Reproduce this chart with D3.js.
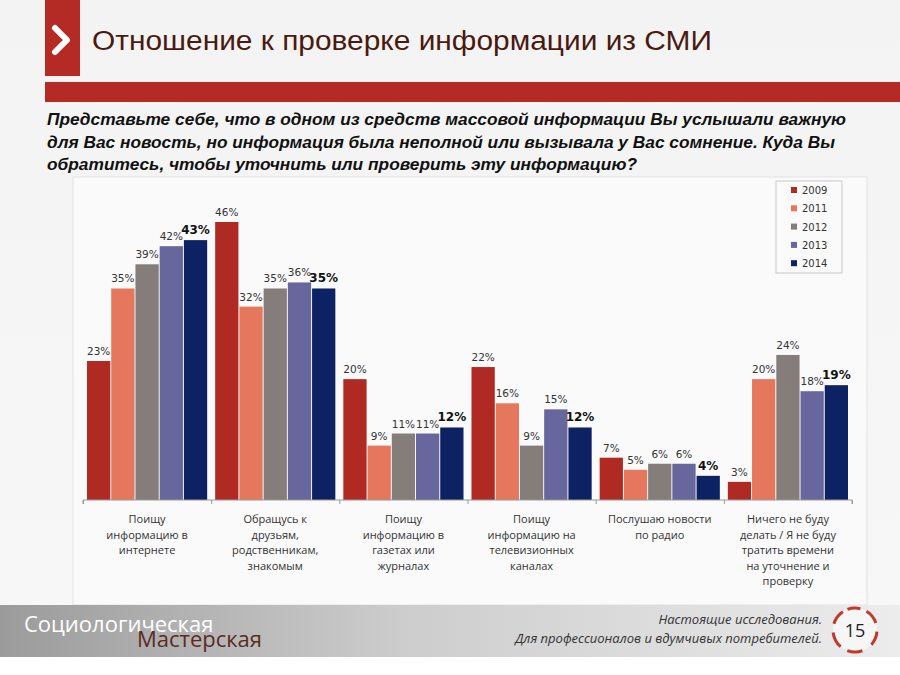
<!DOCTYPE html>
<html><head><meta charset="utf-8">
<script src="https://cdn.jsdelivr.net/npm/d3@7"></script>
<style>body{margin:0;background:#fff}svg{display:block}</style>
</head><body>
<script>
const categories = [
  ["Поищу", "информацию в", "интернете"],
  ["Обращусь к", "друзьям,", "родственникам,", "знакомым"],
  ["Поищу", "информацию в", "газетах или", "журналах"],
  ["Поищу", "информацию на", "телевизионных", "каналах"],
  ["Послушаю новости", "по радио"],
  ["Ничего не буду", "делать / Я не буду", "тратить времени", "на уточнение и", "проверку"]
];
const years = ["2009", "2011", "2012", "2013", "2014"];
const v2009 = [23, 46, 20, 22, 7, 3];
const v2011 = [35, 32, 9, 16, 5, 20];
const v2012 = [39, 35, 11, 9, 6, 24];
const v2013 = [42, 36, 11, 15, 6, 18];
const v2014 = [43, 35, 12, 12, 4, 19];
const series = [v2009, v2011, v2012, v2013, v2014];
const colors = ["#b02a24", "#e5775c", "#857d7a", "#68679d", "#0d2263"];
const title = "Отношение к проверке информации из СМИ";
const question = [
  "Представьте себе, что в одном из средств массовой информации Вы услышали важную",
  "для Вас новость, но информация была неполной или вызывала у Вас сомнение. Куда Вы",
  "обратитесь, чтобы уточнить или проверить эту информацию?"
];
const questionWidths = [799, 788, 590];

const W = 900, H = 675;
const svg = d3.select("body").append("svg").attr("width", W).attr("height", H);
const defs = svg.append("defs");

// background
const bg = defs.append("linearGradient").attr("id", "bg").attr("x1", 0).attr("y1", 0).attr("x2", 0).attr("y2", 1);
bg.append("stop").attr("offset", 0).attr("stop-color", "#f3f3f3");
bg.append("stop").attr("offset", 1).attr("stop-color", "#f7f7f7");
svg.append("rect").attr("width", W).attr("height", 605).attr("fill", "url(#bg)");

// header
svg.append("rect").attr("x", 45).attr("y", 0).attr("width", 35).attr("height", 76).attr("fill", "#b32b24");
svg.append("path").attr("d", "M55,28 L67,40 L55,52").attr("fill", "none")
  .attr("stroke", "#fff").attr("stroke-width", 6).attr("stroke-linecap", "round").attr("stroke-linejoin", "round");
svg.append("text").attr("x", 92).attr("y", 50).text(title)
  .attr("font-family", "Liberation Sans, Arial, sans-serif").attr("font-size", 27).attr("fill", "#4a1a10")
  .attr("textLength", 620).attr("lengthAdjust", "spacingAndGlyphs");
svg.append("rect").attr("x", 45).attr("y", 82).attr("width", W - 45).attr("height", 20).attr("fill", "#b32b24");

// question
svg.append("g").selectAll("text").data(question).join("text")
  .attr("x", 47).attr("y", (d, i) => 125 + i * 22.5)
  .attr("font-family", "Liberation Sans Narrow, Arial Narrow, Liberation Sans, sans-serif")
  .attr("font-size", 17).attr("font-weight", "bold").attr("font-style", "italic").attr("fill", "#111")
  .attr("textLength", (d, i) => questionWidths[i]).attr("lengthAdjust", "spacingAndGlyphs")
  .text(d => d);

// chart panel
svg.append("rect").attr("x", 73).attr("y", 177).attr("width", 794).attr("height", 428)
  .attr("fill", "#fafafa").attr("stroke", "#e2e2e2");

const x0 = d3.scaleBand().domain(d3.range(categories.length)).range([83, 852]).paddingInner(0).paddingOuter(0);
const x1 = d3.scaleBand().domain(years).range([4, x0.bandwidth() - 4]).paddingInner(0.04);
const y = d3.scaleLinear().domain([0, 46]).range([500, 222]);

const g = svg.append("g");
const groups = g.selectAll("g.cat").data(categories).join("g")
  .attr("transform", (d, i) => `translate(${x0(i)},0)`);
years.forEach((yr, s) => {
  groups.append("rect")
    .attr("x", x1(yr)).attr("width", x1.bandwidth())
    .attr("y", (d, i) => y(series[s][i])).attr("height", (d, i) => y(0) - y(series[s][i]))
    .attr("fill", colors[s]);
  groups.append("text")
    .attr("x", x1(yr) + x1.bandwidth() / 2)
    .attr("y", (d, i) => y(series[s][i]) - 6)
    .attr("text-anchor", "middle")
    .attr("font-family", "DejaVu Sans, Verdana, sans-serif")
    .attr("font-size", s === 4 ? 12 : 10.5)
    .attr("font-weight", s === 4 ? "bold" : "normal")
    .attr("fill", s === 4 ? "#111" : "#333")
    .text((d, i) => series[s][i] + "%");
});

// axis
const axis = d3.axisBottom(d3.scaleLinear().domain([0, categories.length]).range([83, 852]))
  .ticks(categories.length).tickSize(4).tickFormat("");
const ax = svg.append("g").attr("transform", "translate(0,500)").call(axis);
ax.select(".domain").attr("stroke", "#9a9a9a").attr("d", "M83,4V0H852V4");
ax.selectAll(".tick line").attr("stroke", "#9a9a9a");

// category labels
groups.append("g").selectAll("text").data(d => d).join("text")
  .attr("x", x0.bandwidth() / 2).attr("y", (d, i) => 523 + i * 15.5)
  .attr("text-anchor", "middle")
  .attr("font-family", "Open Sans, Noto Sans, sans-serif").attr("font-size", 11).attr("fill", "#333")
  .text(d => d);

// legend
const lg = svg.append("g");
lg.append("rect").attr("x", 776).attr("y", 181).attr("width", 66).attr("height", 92)
  .attr("fill", "#fafafa").attr("stroke", "#c8c8c8");
const li = lg.selectAll("g.li").data(years).join("g").attr("transform", (d, i) => `translate(0,${190 + i * 18.3})`);
li.append("rect").attr("x", 791).attr("y", -3).attr("width", 6).attr("height", 6).attr("fill", (d, i) => colors[i]);
li.append("text").attr("x", 802).attr("y", 4).text(d => d)
  .attr("font-family", "DejaVu Sans, Verdana, sans-serif").attr("font-size", 10).attr("fill", "#333");

// footer
const fg = defs.append("linearGradient").attr("id", "fg").attr("x1", 0).attr("x2", 1).attr("y1", 0).attr("y2", 0);
fg.append("stop").attr("offset", 0).attr("stop-color", "#9b9b9b");
fg.append("stop").attr("offset", 0.45).attr("stop-color", "#cdcdcd");
fg.append("stop").attr("offset", 1).attr("stop-color", "#ececec");
svg.append("rect").attr("x", 0).attr("y", 605).attr("width", W).attr("height", 52).attr("fill", "url(#fg)");
svg.append("text").attr("x", 24).attr("y", 632).text("Социологическая")
  .attr("font-family", "Open Sans, Noto Sans, sans-serif").attr("font-size", 22).attr("fill", "#fff");
svg.append("text").attr("x", 137).attr("y", 647).text("Мастерская")
  .attr("font-family", "Open Sans, Noto Sans, sans-serif").attr("font-size", 22).attr("fill", "#5b2b22");
svg.append("text").attr("x", 822).attr("y", 624).attr("text-anchor", "end").text("Настоящие исследования.")
  .attr("font-family", "Open Sans, Noto Sans, sans-serif").attr("font-size", 13).attr("font-style", "italic").attr("fill", "#333");
svg.append("text").attr("x", 822).attr("y", 643).attr("text-anchor", "end").text("Для профессионалов и вдумчивых потребителей.")
  .attr("font-family", "Open Sans, Noto Sans, sans-serif").attr("font-size", 13).attr("font-style", "italic").attr("fill", "#333");
svg.append("circle").attr("cx", 855).attr("cy", 630).attr("r", 22).attr("fill", "#f6f6f6");
const arc = d3.arc().innerRadius(20.5).outerRadius(23.5);
const arcs = [[-0.35, 0.25], [0.55, 1.25], [1.65, 2.3], [2.8, 3.5], [3.85, 4.6], [5.0, 5.7]];
svg.append("g").attr("transform", "translate(855,630)").selectAll("path").data(arcs).join("path")
  .attr("d", d => arc({startAngle: d[0], endAngle: d[1]})).attr("fill", "#c0392b");
svg.append("text").attr("x", 855).attr("y", 637).attr("text-anchor", "middle").text("15")
  .attr("font-family", "Open Sans, Noto Sans, sans-serif").attr("font-size", 18).attr("fill", "#222");
</script>
</body></html>
